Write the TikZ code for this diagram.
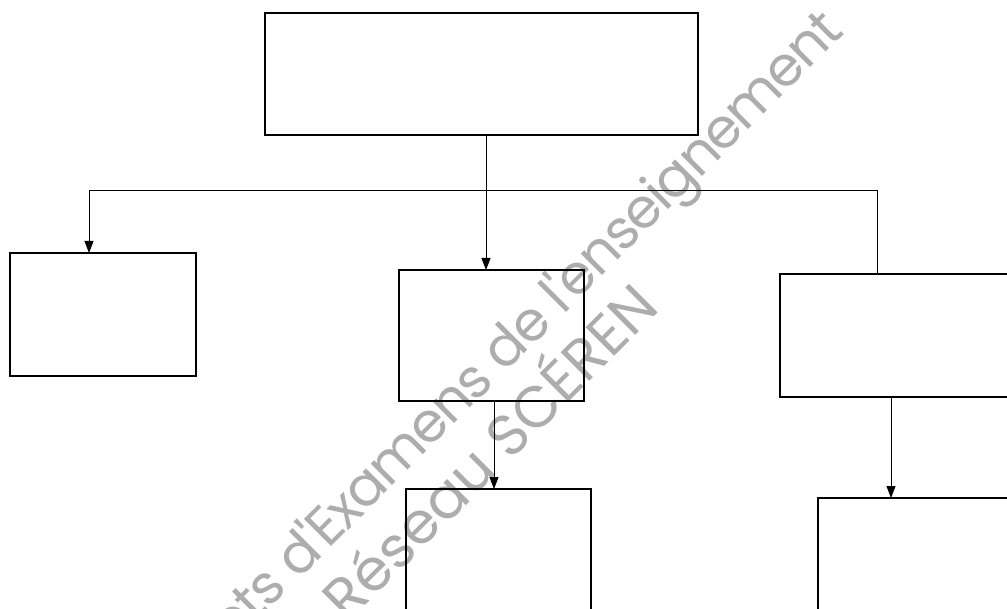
\documentclass[tikz,border=0pt]{standalone}
\usepackage{fontspec}
\usepackage{tikz}
\usetikzlibrary{arrows.meta, positioning}
\newfontfamily\wmfont[LetterSpace=-3]{Poppins}
\newfontfamily\wmcaps{Poppins}
\tikzset{
    box/.style={rectangle, anchor=north west, inner sep=0pt, outer sep=0pt, draw=black, line width=1.3pt},
    arrow/.style={line width=0.9pt, -{Triangle[length=12pt, width=9pt]}},
    link/.style={line width=0.9pt},
    watermark/.style={text=black!32, rotate=45, inner sep=0pt}
}

\begin{document}
\begin{tikzpicture}[x=1pt, y=-1pt]

\useasboundingbox (0,0) rectangle (1007,609);
\clip (0,0) rectangle (1007,609);

% Watermark
\node (wmone) [watermark, font=\wmfont\fontsize{55}{55}\selectfont] at (502,356) {Sujets d'Examens de l'enseignement};
\node (wmtwo) [watermark, font=\wmcaps\fontsize{58}{58}\selectfont] at (486,448) {Réseau SCÉREN};

% Nodes
\node (top) [box, minimum width=433pt, minimum height=122pt] at (265,13) {};
\node (left) [box, minimum width=186pt, minimum height=123pt] at (10,253) {};
\node (mid) [box, minimum width=185pt, minimum height=131pt] at (399,270) {};
\node (right) [box, minimum width=280pt, minimum height=123pt] at (780,274) {};
\node (midlow) [box, minimum width=185pt, minimum height=151pt] at (406,489) {};
\node (rightlow) [box, minimum width=242pt, minimum height=142pt] at (818,498) {};

\coordinate (busL) at (89,190);
\coordinate (busR) at (877,190);

% Connectors
\draw [arrow] ([xshift=4.5pt]top.south) -- ([xshift=4.5pt]top.south |- mid.north);
\draw [link] (busR |- right.north) -- (busR) -- (busL);
\draw [arrow] (busL) -- (busL |- left.north);
\draw [arrow] ([xshift=2.5pt]mid.south) -- ([xshift=2.5pt]mid.south |- midlow.north);
\draw [arrow] ([xshift=-29pt]right.south) -- ([xshift=-29pt]right.south |- rightlow.north);

\end{tikzpicture}
\end{document}
